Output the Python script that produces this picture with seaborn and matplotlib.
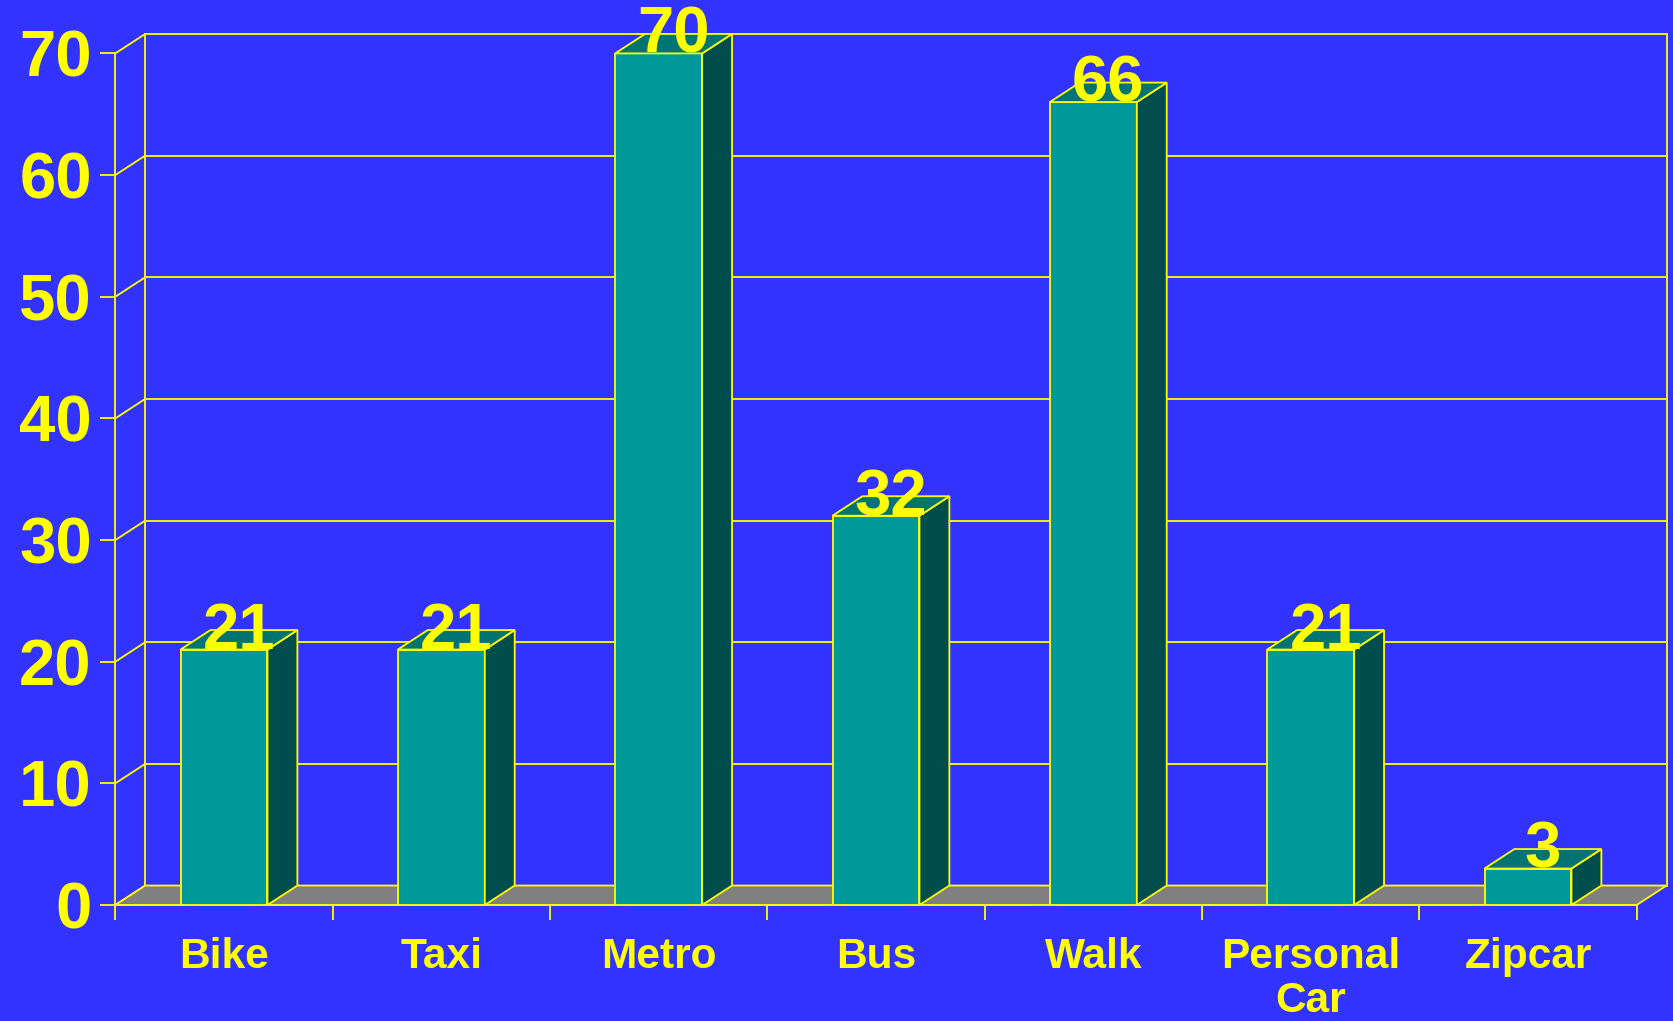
import matplotlib
matplotlib.use("Agg")
import matplotlib.pyplot as plt
import seaborn as sns
import pandas as pd
from matplotlib.patches import Polygon

categories = ["Bike", "Taxi", "Metro", "Bus", "Walk", "Personal\nCar", "Zipcar"]
values = [21, 21, 70, 32, 66, 21, 3]
y_ticks = [0, 10, 20, 30, 40, 50, 60, 70]

BG = "#3333FF"
YEL = "#FFFF00"
FRONT = "#009999"
SIDE = "#004D4D"
TOP = "#007373"
FLOOR = "#808080"

sns.set_theme(style="white")
plt.rcParams['font.family'] = ['Liberation Sans', 'DejaVu Sans']
plt.rcParams['font.weight'] = 'bold'

fig = plt.figure(figsize=(16.74, 10.21), dpi=100, facecolor=BG)
ax = fig.add_axes([0.0689, 0.1136, 0.9088, 0.8341])
ax.set_facecolor('none')

df = pd.DataFrame({"cat": categories, "val": values})
sns.barplot(data=df, x="cat", y="val", color=FRONT, width=0.4, edgecolor=YEL,
            linewidth=1.3, saturation=1, ax=ax, zorder=3)

n = len(categories)
xmin, xmax = -0.5, n - 0.5
ymax = y_ticks[-1]
ax.set_xlim(xmin, xmax)
ax.set_ylim(0, ymax)

dx, dy = 0.1376, 1.6
lw = 1.3

# back wall
ax.add_patch(Polygon([(xmin + dx, dy), (xmax + dx, dy), (xmax + dx, ymax + dy), (xmin + dx, ymax + dy)],
                     closed=True, facecolor='none', edgecolor=YEL, lw=lw, zorder=0.5, clip_on=False))
for t in y_ticks[1:-1]:
    ax.plot([xmin + dx, xmax + dx], [t + dy, t + dy], color=YEL, lw=lw, zorder=0.5, clip_on=False)
for t in y_ticks:
    ax.plot([xmin, xmin + dx], [t, t + dy], color=YEL, lw=lw, zorder=0.5, clip_on=False)
# floor
ax.add_patch(Polygon([(xmin, 0), (xmax, 0), (xmax + dx, dy), (xmin + dx, dy)], closed=True,
                     facecolor=FLOOR, edgecolor=YEL, lw=lw, zorder=1, clip_on=False))

bars = [p for p in ax.patches if p.get_facecolor()[:3] == matplotlib.colors.to_rgb(FRONT)]
for p, v in zip(bars, values):
    x0, w, h = p.get_x(), p.get_width(), p.get_height()
    ax.add_patch(Polygon([(x0 + w, 0), (x0 + w + dx, dy), (x0 + w + dx, h + dy), (x0 + w, h)], closed=True,
                         facecolor=SIDE, edgecolor=YEL, lw=lw, zorder=3, clip_on=False))
    ax.add_patch(Polygon([(x0, h), (x0 + w, h), (x0 + w + dx, h + dy), (x0 + dx, h + dy)], closed=True,
                         facecolor=TOP, edgecolor=YEL, lw=lw, zorder=3, clip_on=False))
    ax.text(x0 + w / 2 + dx / 2, h + 0.05, f"{v}", ha='center', va='baseline', fontsize=47,
            color=YEL, fontweight='bold', zorder=5, clip_on=False)

ax.set_yticks(y_ticks)
ax.tick_params(axis='y', colors=YEL, labelsize=47, length=11, width=lw, direction='out', pad=6, left=True)
ax.set_xticks(range(n))
ax.set_xticklabels(categories)
ax.set_xticks([i - 0.5 for i in range(n + 1)], minor=True)
ax.tick_params(axis='x', which='major', length=0, pad=23, labelsize=30.5, colors=YEL)
ax.tick_params(axis='x', which='minor', length=11, width=lw, color=YEL, direction='out', bottom=True)
for lab in ax.get_xticklabels() + ax.get_yticklabels():
    lab.set_fontweight('bold')
    lab.set_color(YEL)
for lab in ax.get_xticklabels():
    lab.set_linespacing(1.12)

for s in ['top', 'right']:
    ax.spines[s].set_visible(False)
for s in ['left', 'bottom']:
    ax.spines[s].set_color(YEL)
    ax.spines[s].set_linewidth(lw)
    ax.spines[s].set_zorder(2)
ax.set_xlabel('')
ax.set_ylabel('')

fig.savefig("out.png", dpi=100, facecolor=BG)
